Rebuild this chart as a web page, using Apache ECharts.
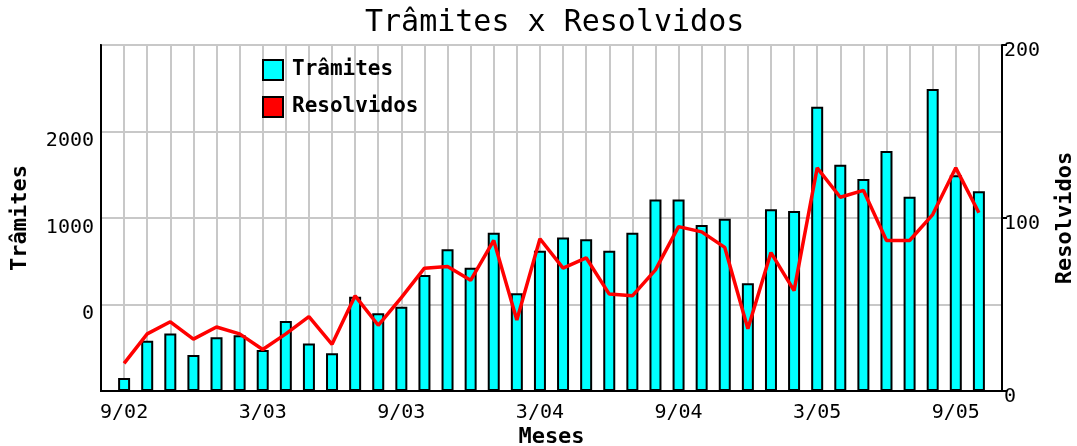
<!DOCTYPE html>
<html>
<head>
<meta charset="utf-8">
<script src="https://cdn.jsdelivr.net/npm/echarts@6/dist/echarts.min.js"></script>
<style>
  html, body { margin: 0; padding: 0; background: #fff; }
  #chart { width: 1077px; height: 446px; }
</style>
</head>
<body>
<div id="chart"></div>
<script>
const meses = ['9/02', '10/02', '11/02', '12/02', '1/03', '2/03', '3/03', '4/03', '5/03', '6/03',
  '7/03', '8/03', '9/03', '10/03', '11/03', '12/03', '1/04', '2/04', '3/04', '4/04',
  '5/04', '6/04', '7/04', '8/04', '9/04', '10/04', '11/04', '12/04', '1/05', '2/05',
  '3/05', '4/05', '5/05', '6/05', '7/05', '8/05', '9/05', '10/05']

// valores lidos no eixo da esquerda
const tramites = [-850, -420, -335, -585, -380, -355, -525, -190, -450, -565,
  90, -100, -25, 340, 640, 425, 830, 130, 620, 775,
  755, 620, 830, 1215, 1215, 920, 990, 245, 1100, 1080,
  2285, 1615, 1450, 1775, 1245, 2490, 1495, 1310]

// valores lidos no eixo da direita
const resolvidos = [16, 33, 40, 30, 37, 33, 24, 33, 43, 27,
  55, 38, 54, 71, 72, 64, 87, 41, 88, 71,
  77, 56, 55, 70, 95, 92, 83, 36, 80, 58,
  129, 112, 116, 87, 87, 102, 129, 103]

const fonte = 'DejaVu Sans Mono'

const chart = echarts.init(document.getElementById('chart'))
chart.setOption({
  animation: false,
  title: {
    text: 'Trâmites x Resolvidos',
    left: 360,
    top: 3,
    textStyle: { fontFamily: fonte, fontSize: 30, fontWeight: 'normal', color: '#000' }
  },
  legend: {
    orient: 'vertical',
    left: 257,
    top: 54,
    icon: 'rect',
    itemWidth: 20,
    itemHeight: 20,
    itemGap: 15,
    itemStyle: { borderColor: '#000', borderWidth: 2 },
    textStyle: { fontFamily: fonte, fontSize: 21, fontWeight: 'bold', color: '#000', padding: [0, 0, 0, 4] },
    data: ['Trâmites', 'Resolvidos']
  },
  grid: {
    left: 101,
    right: 75,
    top: 45,
    bottom: 55,
    outerBoundsMode: 'none',
    show: true,
    borderColor: '#222',
    borderWidth: 2
  },
  xAxis: {
    type: 'category',
    data: meses,
    boundaryGap: false,
    min: -1,
    max: meses.length,
    name: 'Meses',
    nameLocation: 'middle',
    nameGap: 35,
    nameMoveOverlap: false,
    nameTextStyle: { fontFamily: fonte, fontSize: 22, fontWeight: 'bold', color: '#000' },
    axisLine: { onZero: false, lineStyle: { color: '#000', width: 2 } },
    axisTick: { show: true, inside: true, length: 6, interval: 0, lineStyle: { color: '#000', width: 2 } },
    axisLabel: {
      interval: (i) => i % 6 === 0,
      formatter: (v) => v || '',
      fontFamily: fonte,
      fontSize: 20,
      color: '#000',
      margin: 12
    },
    splitLine: { show: true, interval: 0, lineStyle: { color: '#c8c8c8', width: 2 } }
  },
  yAxis: [
    {
      type: 'value',
      min: -1000,
      max: 3000,
      interval: 1000,
      startValue: -1000,
      name: 'Trâmites',
      nameLocation: 'middle',
      nameRotate: 90,
      nameGap: 70,
      nameMoveOverlap: false,
      nameTextStyle: { fontFamily: fonte, fontSize: 22, fontWeight: 'bold', color: '#000' },
      axisLine: { show: true, onZero: false, lineStyle: { color: '#000', width: 2 } },
      axisTick: { show: false },
      axisLabel: {
        formatter: (v) => (v === -1000 || v === 3000) ? '' : v,
        fontFamily: fonte,
        fontSize: 20,
        color: '#000',
        margin: 7,
        verticalAlign: 'top',
        lineHeight: 19
      },
      splitLine: { show: true, lineStyle: { color: '#c8c8c8', width: 2 } }
    },
    {
      type: 'value',
      position: 'right',
      min: 0,
      max: 200,
      interval: 100,
      name: 'Resolvidos',
      nameLocation: 'middle',
      nameRotate: 90,
      nameGap: 52,
      nameMoveOverlap: false,
      nameTextStyle: { fontFamily: fonte, fontSize: 22, fontWeight: 'bold', color: '#000' },
      axisLine: { show: true, onZero: false, lineStyle: { color: '#000', width: 2 } },
      axisTick: { show: true, length: 5, lineStyle: { color: '#000', width: 2 } },
      axisLabel: {
        fontFamily: fonte,
        fontSize: 20,
        color: '#000',
        margin: 2,
        verticalAlign: 'top',
        verticalAlignMinLabel: 'top',
        verticalAlignMaxLabel: 'top',
        lineHeight: 12
      },
      splitLine: { show: false }
    }
  ],
  series: [
    {
      name: 'Trâmites',
      type: 'bar',
      yAxisIndex: 0,
      barWidth: 12,
      data: tramites,
      itemStyle: { color: '#00ffff', borderColor: '#000', borderWidth: 2 }
    },
    {
      name: 'Resolvidos',
      type: 'line',
      yAxisIndex: 1,
      data: resolvidos,
      showSymbol: false,
      symbol: 'none',
      z: 5,
      itemStyle: { color: '#ff0000' },
      lineStyle: { color: '#ff0000', width: 3.5 }
    }
  ]
})
</script>
</body>
</html>
